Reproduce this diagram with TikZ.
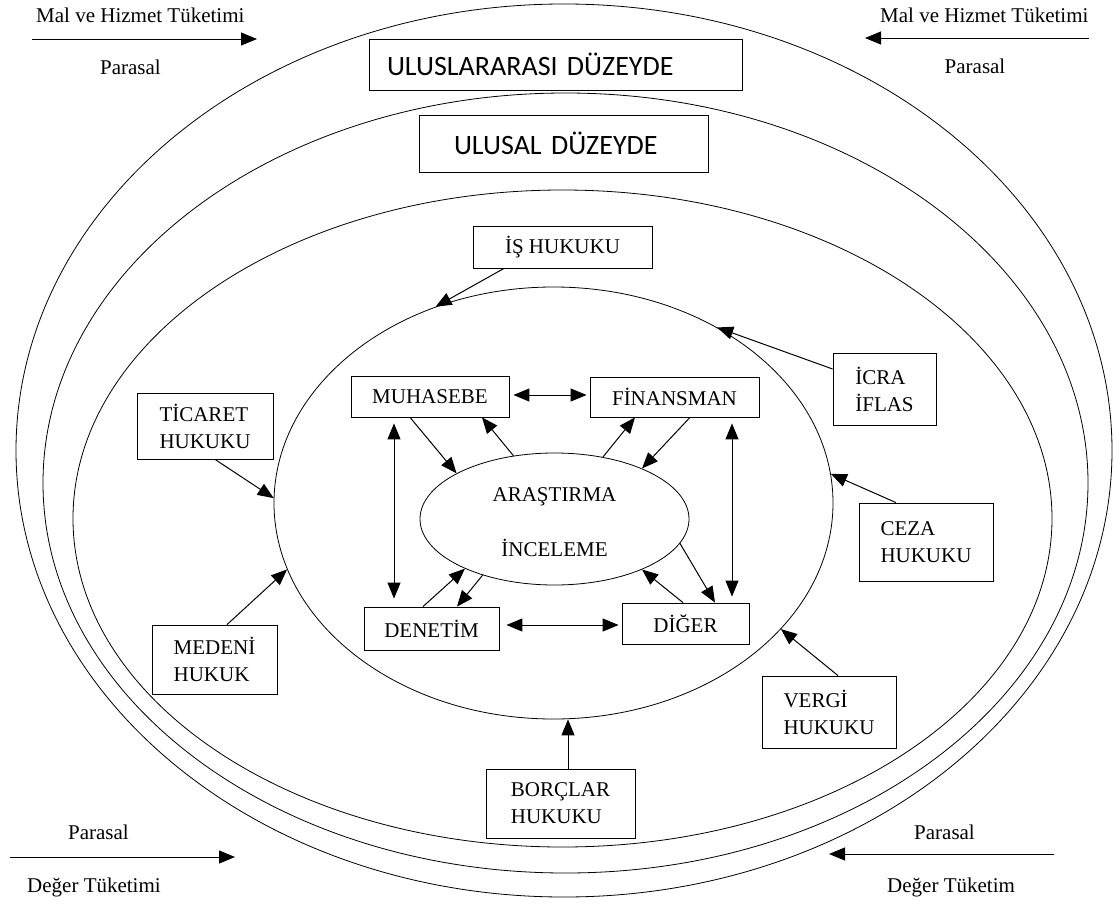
\documentclass[tikz,border=0pt]{standalone}
\usepackage{fontspec}
\setmainfont{Liberation Serif}
\newfontfamily\calibri{Carlito}
\usetikzlibrary{arrows.meta,shapes.geometric}
\tikzset{
  box/.style={draw, line width=0.8pt, inner sep=0pt, fill=white, font=\fontsize{21}{27}\selectfont},
  ring/.style={draw, ellipse, line width=0.8pt, inner sep=0pt},
  lbl/.style={inner sep=0pt, font=\fontsize{21}{27}\selectfont},
  arr/.style={line width=1pt, -{Triangle[length=16pt,width=13pt]}},
  darr/.style={line width=1pt, {Triangle[length=16pt,width=13pt]}-{Triangle[length=16pt,width=13pt]}}
}
\begin{document}
\begin{tikzpicture}[x=1pt,y=-1pt]
\useasboundingbox (0,0) rectangle (1114,905);
% rings
\node[ring, minimum width=1096, minimum height=893] (e1) at (564,450.5) {};
\node[ring, minimum width=1045, minimum height=780] (e2) at (565.5,483) {};
\node[ring, minimum width=979, minimum height=657] (e3) at (562.5,518.5) {};
\node[ring, minimum width=559, minimum height=432] (e4) at (553.5,503) {};
\node[ring, minimum width=269, minimum height=132] (ar) at (554.5,519) {};
\node[lbl, align=center] (artxt) at (554.5,522.5) {ARAŞTIRMA\\[28pt]İNCELEME};
% level boxes
\node[box, minimum width=373, minimum height=51, text width=337, inner xsep=18pt, align=left, font=\calibri\fontsize{28}{32}\selectfont] (intl) at (555.5,64.5) {ULUSLARARASI DÜZEYDE};
\node[box, minimum width=289, minimum height=57, text width=219, inner xsep=35pt, align=left, font=\calibri\fontsize{28}{32}\selectfont] (nat) at (563.5,143.5) {ULUSAL DÜZEYDE};
% inner boxes
\node[box, minimum width=158, minimum height=41] (muh) at (430,396.5) {MUHASEBE};
\node[box, minimum width=169, minimum height=40] (fin) at (674.5,397) {FİNANSMAN};
\node[box, minimum width=135, minimum height=43] (den) at (431.5,628.5) {DENETİM};
\node[box, minimum width=127, minimum height=41] (dig) at (685.5,623.5) {DİĞER};
% law boxes
\node[box, minimum width=179, minimum height=42] (is) at (562.5,247) {İŞ HUKUKU};
\node[box, minimum width=136, minimum height=66, align=left] (tic) at (205,426) {TİCARET\\HUKUKU};
\node[box, minimum width=125, minimum height=69, align=left] (med) at (214.5,659.5) {MEDENİ\\HUKUK};
\node[box, minimum width=103, minimum height=72, align=left] (icra) at (884.5,389) {İCRA\\İFLAS};
\node[box, minimum width=134, minimum height=78, align=left] (ceza) at (926,542) {CEZA\\HUKUKU};
\node[box, minimum width=134, minimum height=72, align=left] (vergi) at (829,712) {VERGİ\\HUKUKU};
\node[box, minimum width=149, minimum height=69, align=left] (borc) at (560.5,803.5) {BORÇLAR\\HUKUKU};
% law arrows to e4
\draw[arr] ([xshift=-58.5pt]is.south) -- (e4.121.3);
\draw[arr] ([xshift=10pt]tic.south) -- (e4.179);
\draw[arr] ([xshift=12.5pt]med.north) -- (e4.194);
\draw[arr] ([yshift=20pt]icra.west) -- (e4.47.7);
\draw[arr] ([xshift=-30pt]ceza.north) -- (e4.6.2);
\draw[arr] ([xshift=9pt]vergi.north) -- (e4.-29.1);
\draw[arr] ([xshift=7.5pt]borc.north) -- ([xshift=7.5pt]borc.north |- e4.south);
% inner arrows
\draw[darr, shorten <=4pt, shorten >=3pt] ([yshift=1.5pt]muh.east) -- ([yshift=2pt]fin.west);
\draw[darr, shorten <=7pt, shorten >=3pt] ([yshift=3.5pt]den.east) -- ([yshift=-1.5pt]dig.west);
\draw[darr, shorten <=6pt, shorten >=8pt] ([xshift=-36pt]muh.south) -- ([xshift=-37.5pt]den.north);
\draw[darr, shorten <=6pt, shorten >=6pt] ([xshift=57.5pt]fin.south) -- ([xshift=46.5pt]dig.north);
\draw[arr] ([xshift=-20pt]muh.south) -- (ar.155);
\draw[arr] (ar.123.4) -- ([xshift=52pt]muh.south);
\draw[arr] (ar.52) -- ([xshift=-39.5pt]fin.south);
\draw[arr] ([xshift=15.5pt]fin.south) -- (ar.30.7);
\draw[arr] (ar.-11.9) -- ([xshift=29.5pt]dig.north);
\draw[arr] ([xshift=-2.5pt]dig.north) -- (ar.-30.3);
\draw[arr] ([xshift=-8.5pt]den.north) -- (ar.209.7);
\draw[arr] (ar.218.9) -- ([xshift=25.5pt]den.north);
% corner flows
\node[lbl, anchor=base west] (tlt) at (36,22) {Mal ve Hizmet Tüketimi};
\node[lbl, anchor=base] (tlp) at (130.5,74) {Parasal};
\coordinate (tla) at (32,39); \coordinate (tlb) at (257,39);
\draw[arr] (tla) -- (tlb);
\node[lbl, anchor=base west] (trt) at (880,22) {Mal ve Hizmet Tüketimi};
\node[lbl, anchor=base] (trp) at (975,73) {Parasal};
\coordinate (tra) at (1089,38); \coordinate (trb) at (865,38);
\draw[arr] (tra) -- (trb);
\node[lbl, anchor=base] (blp) at (98.5,839) {Parasal};
\node[lbl, anchor=base west] (blt) at (27,892) {Değer Tüketimi};
\coordinate (bla) at (10,857); \coordinate (blb) at (235,857);
\draw[arr] (bla) -- (blb);
\node[lbl, anchor=base] (brp) at (944.5,839) {Parasal};
\node[lbl, anchor=base west] (brt) at (887,892) {Değer Tüketim};
\coordinate (bra) at (1054,854); \coordinate (brb) at (829,854);
\draw[arr] (bra) -- (brb);
\end{tikzpicture}
\end{document}
